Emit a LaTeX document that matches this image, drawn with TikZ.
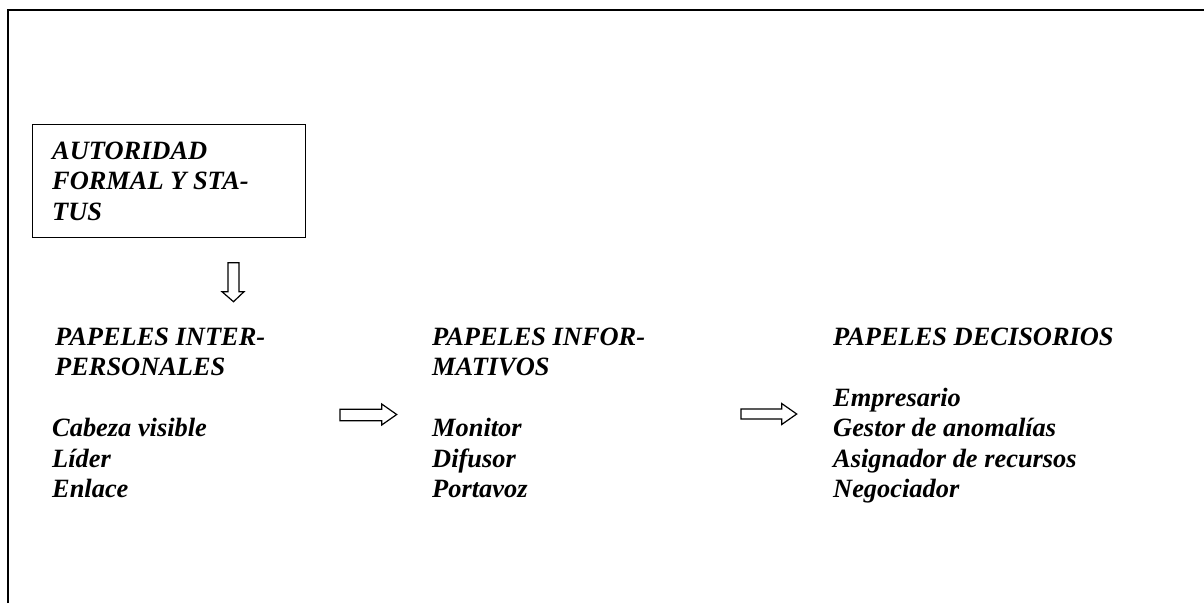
\documentclass[tikz,border=0pt]{standalone}
\usepackage{fontspec}
\setmainfont{Liberation Serif}
\begin{document}
\begin{tikzpicture}[x=1pt,y=-1pt,
  txt/.style={anchor=base west, inner sep=0pt, font=\fontsize{26.4}{30.5}\selectfont\bfseries\itshape},
  blockarrow/.style={draw, line width=1.2pt, line join=miter},
  frame/.style={line width=2pt}]
\useasboundingbox (0,0) rectangle (1204,603);
\draw[frame] (8,603) -- (8,10) -- (1204,10);
\node[draw, line width=1.3pt, minimum width=273.3pt, minimum height=112.7pt, anchor=north west, inner sep=0pt] (box) at (31.7,124) {};
% box text
\node[txt] (a1) at (52,159) {AUTORIDAD};
\node[txt] (a2) at (52,189.5) {FORMAL Y STA-};
\node[txt] (a3) at (52,220) {TUS};
% column 1
\node[txt] (p1) at (55,345) {PAPELES INTER-};
\node[txt] (p2) at (55,375.5) {PERSONALES};
\node[txt] (p3) at (52,436.5) {Cabeza visible};
\node[txt] (p4) at (52,467) {Líder};
\node[txt] (p5) at (52,497.5) {Enlace};
% column 2
\node[txt] (i1) at (432,345) {PAPELES INFOR-};
\node[txt] (i2) at (432,375.5) {MATIVOS};
\node[txt] (i3) at (432,436.5) {Monitor};
\node[txt] (i4) at (432,467) {Difusor};
\node[txt] (i5) at (432,497.5) {Portavoz};
% column 3
\node[txt] (d1) at (833,345) {PAPELES DECISORIOS};
\node[txt] (d2) at (833,406) {Empresario};
\node[txt] (d3) at (833,436.5) {Gestor de anomalías};
\node[txt] (d4) at (833,467) {Asignador de recursos};
\node[txt] (d5) at (833,497.5) {Negociador};
% arrows
\draw[blockarrow] (228,262.7) -- (239,262.7) -- (239,291.7) -- (244,291.7) -- (233.5,301.7) -- (222,291.7) -- (228,291.7) -- cycle;
\draw[blockarrow] (340,409.3) -- (381.7,409.3) -- (381.7,404) -- (396.7,414.5) -- (381.7,425) -- (381.7,420.7) -- (340,420.7) -- cycle;
\draw[blockarrow] (741,409) -- (781.7,409) -- (781.7,403.5) -- (796.7,414) -- (781.7,424.5) -- (781.7,419) -- (741,419) -- cycle;
\end{tikzpicture}
\end{document}
